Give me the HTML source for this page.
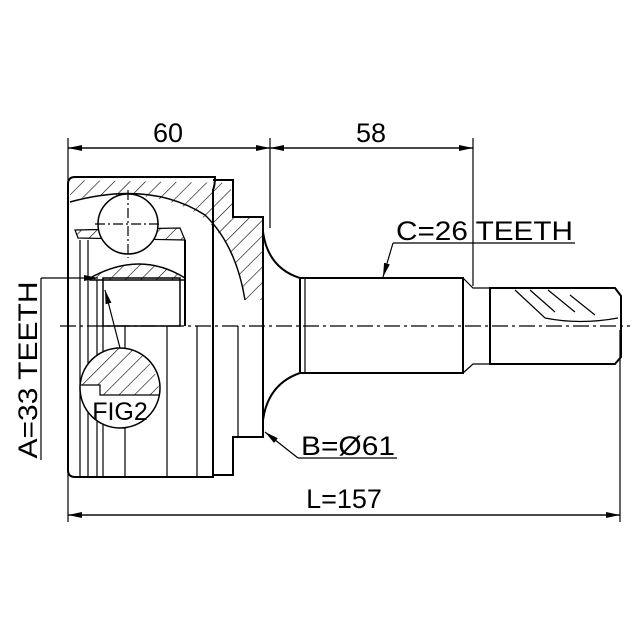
<!DOCTYPE html>
<html><head><meta charset="utf-8"><style>html,body{margin:0;padding:0;background:#fff}svg{display:block}text{font-family:"Liberation Sans",sans-serif;fill:#000}</style></head>
<body>
<svg width="640" height="640" viewBox="0 0 640 640" xmlns="http://www.w3.org/2000/svg">
<defs>
<pattern id="h" width="11" height="11" patternUnits="userSpaceOnUse" patternTransform="rotate(45)">
<line x1="0" y1="0" x2="0" y2="11" stroke="#000" stroke-width="1.2"/></pattern>
<marker id="a" markerWidth="14" markerHeight="8" refX="14" refY="4" orient="auto" markerUnits="userSpaceOnUse"><path d="M0,1 L14,4 L0,7z" fill="#000"/></marker>
</defs>
<g stroke="#000" fill="none" stroke-width="1.2">
<line x1="68" y1="138" x2="68" y2="522"/>
<line x1="270" y1="138" x2="270" y2="228"/>
<line x1="473" y1="138" x2="473" y2="286"/>
<line x1="620" y1="330" x2="620" y2="522"/>
<line x1="270" y1="148" x2="68" y2="148" marker-end="url(#a)"/>
<line x1="68" y1="148" x2="270" y2="148" marker-end="url(#a)"/>
<line x1="270" y1="148" x2="473" y2="148" marker-end="url(#a)"/>
<line x1="473" y1="148" x2="270" y2="148" marker-end="url(#a)"/>
<line x1="68" y1="515" x2="620" y2="515" marker-end="url(#a)"/>
<line x1="620" y1="515" x2="68" y2="515" marker-end="url(#a)"/>
<path d="M75,177 L215,177 Q215,185 213,190 L213,477 L75,477 Q68,477 68,470 L68,184 Q68,177 75,177z" stroke-width="2"/>
<path d="M213,180 L233,180 L233,217 L263,217 L263,437 L233,437 L233,475 L213,475" stroke-width="2"/>
<path d="M70,200 Q150,185 200,215 Q236,242 245,300 L262,300 L262,217 L235,217 L230,183 L70,180z" fill="url(#h)" stroke="none"/>
<path d="M70,202 Q150,180 205,215 Q236,245 245,300" stroke-width="1.5"/>
<path d="M90,278 Q140,250 185,278 L185,280 L90,280z" fill="url(#h)" stroke-width="1.5"/>
<path d="M75,230 L180,228 L185,240 L78,238z" fill="url(#h)"/>
<circle cx="128" cy="224" r="30" fill="#fff" stroke-width="1.5"/>
<line x1="128" y1="190" x2="128" y2="258" stroke-dasharray="10,3,2,3"/>
<line x1="95" y1="224" x2="162" y2="224" stroke-dasharray="10,3,2,3"/>
<rect x="103" y="278" width="77" height="48" stroke-width="1.5"/>
<line x1="80" y1="240" x2="80" y2="477"/><line x1="88" y1="240" x2="88" y2="477"/>
<line x1="97" y1="280" x2="97" y2="477"/><line x1="103" y1="326" x2="103" y2="477"/>
<line x1="125" y1="326" x2="125" y2="477"/>
<line x1="167" y1="326" x2="167" y2="477"/><line x1="197" y1="326" x2="197" y2="477"/>
<line x1="185" y1="240" x2="185" y2="326" stroke-width="2"/>
<line x1="238" y1="326" x2="238" y2="437"/>
<line x1="60" y1="326" x2="630" y2="326" stroke-dasharray="16,4,3,4"/>
<circle cx="120" cy="388" r="40" fill="#fff" stroke-width="1.5"/>
<path d="M82,383 Q90,350 120,348 Q155,350 160,395 L100,395 L100,385 L82,385z" fill="url(#h)" stroke="none"/>
<path d="M81,385 L100,385 L100,395 L159,395"/>
<line x1="120" y1="348" x2="105" y2="290" marker-end="url(#a)"/>
<line x1="41" y1="460" x2="41" y2="278"/>
<line x1="41" y1="278" x2="98" y2="278" marker-end="url(#a)"/>
<path d="M263,232 Q268,268 300,278 M263,420 Q268,384 300,373" stroke-width="2"/>
<rect x="300" y="278" width="163" height="95" stroke-width="2"/>
<line x1="305" y1="278" x2="305" y2="373"/>
<path d="M463,278 L473,288 L490,288 L490,364 L473,364 L463,373"/>
<path d="M490,288 L615,288 L621,296 L621,357 L615,364 L490,364z" stroke-width="2"/>
<path d="M515,290 L545,318 Q580,325 618,318 M530,290 L555,312 M548,290 L575,312 M570,295 L595,315"/>
<line x1="393" y1="243" x2="575" y2="243"/>
<line x1="393" y1="243" x2="383" y2="277" marker-end="url(#a)"/>
<line x1="298" y1="458" x2="397" y2="458"/>
<line x1="298" y1="458" x2="265" y2="432" marker-end="url(#a)"/>
</g>
<g font-size="27">
<text x="168" y="142" text-anchor="middle">60</text>
<text x="371" y="142" text-anchor="middle">58</text>
<text x="396" y="240" textLength="177" lengthAdjust="spacingAndGlyphs">C=26 TEETH</text>
<text x="301" y="455" textLength="94" lengthAdjust="spacingAndGlyphs">B=Ø61</text>
<text x="344" y="508" text-anchor="middle">L=157</text>
<text x="120" y="420" text-anchor="middle" font-size="25">FIG2</text>
<text transform="translate(37,370) rotate(-90)" text-anchor="middle" textLength="177" lengthAdjust="spacingAndGlyphs">A=33 TEETH</text>
</g>
</svg>
</body></html>
